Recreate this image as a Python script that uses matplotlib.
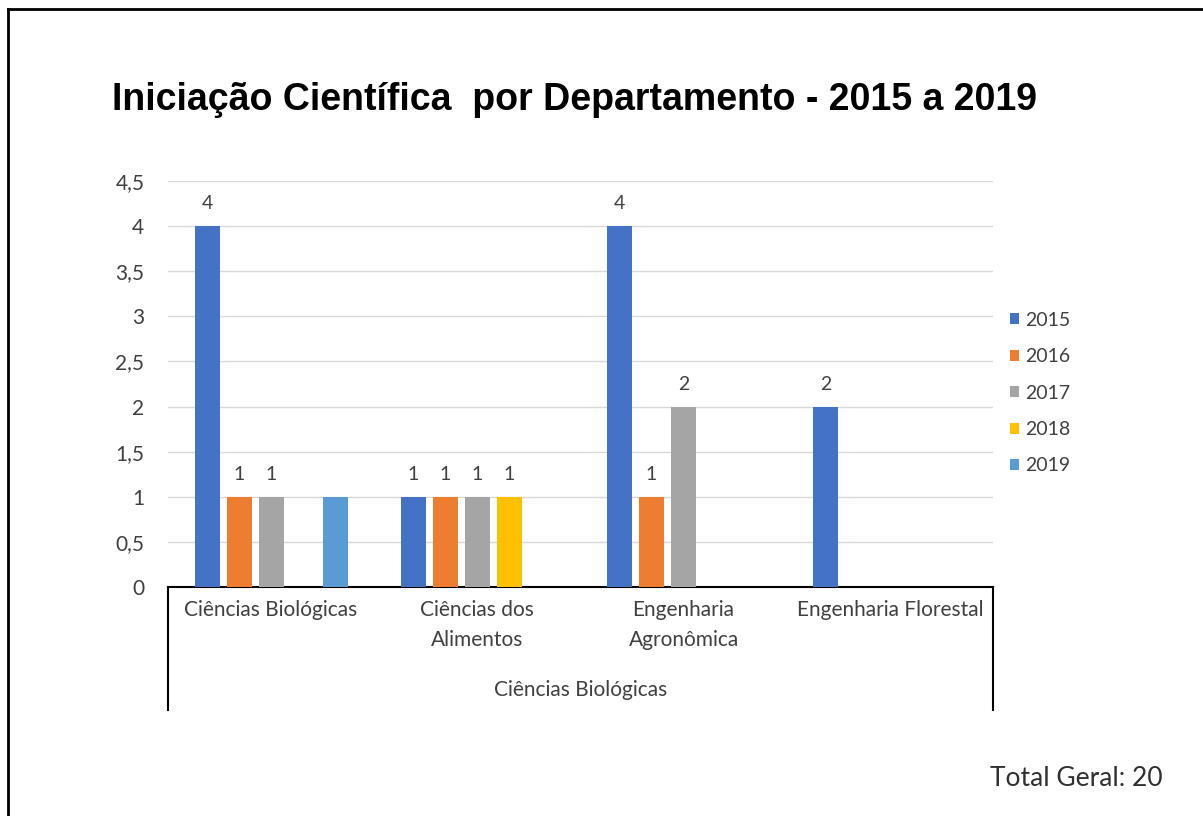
import numpy as np
import matplotlib.pyplot as plt
from matplotlib.lines import Line2D

# data
departamentos = ["Ciências Biológicas", "Ciências dos\nAlimentos",
                 "Engenharia\nAgronômica", "Engenharia Florestal"]
grupo = "Ciências Biológicas"
anos = ["2015", "2016", "2017", "2018", "2019"]
v2015 = [4, 1, 4, 2]
v2016 = [1, 1, 1, 0]
v2017 = [1, 1, 2, 0]
v2018 = [0, 1, 0, 0]
v2019 = [1, 0, 0, 0]
series = [v2015, v2016, v2017, v2018, v2019]
cores = ["#4472C4", "#ED7D31", "#A5A5A5", "#FFC000", "#5B9BD5"]
mostrar_rotulo = [True, True, True, True, False]
total = 20

W, H = 1203, 816
fig = plt.figure(figsize=(W/100, H/100), dpi=100)
ax = fig.add_axes([168/W, 1-587/H, (993-168)/W, 406/H])

x = np.arange(len(departamentos))
step = 32/206
bw = 25/206
for i, (ano, vals, cor) in enumerate(zip(anos, series, cores)):
    pos = x + (i - 2)*step
    vals = np.array(vals, dtype=float)
    ax.bar(pos, vals, bw, color=cor, label=ano, zorder=3)
    if mostrar_rotulo[i]:
        for p, v in zip(pos, vals):
            if v > 0:
                ax.annotate(f"{v:g}", (p, v), xytext=(0, 10), textcoords="offset points",
                            ha="center", va="bottom", fontsize=14, color="#404040",
                            family="Lato")

ax.set_xlim(-0.5, 3.5)
ax.set_ylim(0, 4.5)
yt = np.arange(0, 4.51, 0.5)
ax.set_yticks(yt)
ax.set_yticklabels([f"{t:g}".replace(".", ",") for t in yt], fontsize=15,
                   family="Lato", color="#404040")
ax.tick_params(axis="y", length=0, pad=17)
ax.yaxis.grid(True, color="#D9D9D9", linewidth=1, zorder=0)
for s in ["top", "right", "left"]:
    ax.spines[s].set_visible(False)
ax.spines["bottom"].set_color("black")
ax.spines["bottom"].set_linewidth(1.5)

ax.set_xticks(x)
ax.set_xticklabels(departamentos, fontsize=15, family="Lato", color="#404040",
                   linespacing=1.65)
ax.tick_params(axis="x", length=0, pad=9)

# category box lines
tr = ax.get_xaxis_transform()
ybot = -(710-587)/406
for xv in [-0.5, 3.5]:
    ax.plot([xv, xv], [0, ybot], transform=tr, color="black", lw=1.5, clip_on=False)
ax.text(1.5, -(690-587)/406, grupo, transform=tr, ha="center", va="center",
        fontsize=15, family="Lato", color="#404040")

leg = ax.legend(loc="center left", bbox_to_anchor=(992/W, 1-393/H),
                bbox_transform=fig.transFigure, frameon=False,
                prop={"family": "Lato", "size": 14}, handlelength=0.5, handleheight=0.5,
                handletextpad=0.3, labelspacing=1.0)
for t in leg.get_texts():
    t.set_color("#404040")

fig.text(112/W, 1-100/H, "Iniciação Científica  por Departamento - 2015 a 2019",
         fontsize=27, fontweight="bold", family="Liberation Sans", ha="left", va="center")
fig.text(1163/W, 1-778/H, f"Total Geral: {total}", fontsize=19, family="Lato",
         color="#303030", ha="right", va="center")

# outer frame
fig.add_artist(Line2D([7.5/W, 7.5/W], [0, 1-8.5/H], transform=fig.transFigure,
                      color="black", lw=2))
fig.add_artist(Line2D([7.5/W, 1], [1-8.5/H, 1-8.5/H], transform=fig.transFigure,
                      color="black", lw=2))

fig.savefig("out.png", dpi=100)
